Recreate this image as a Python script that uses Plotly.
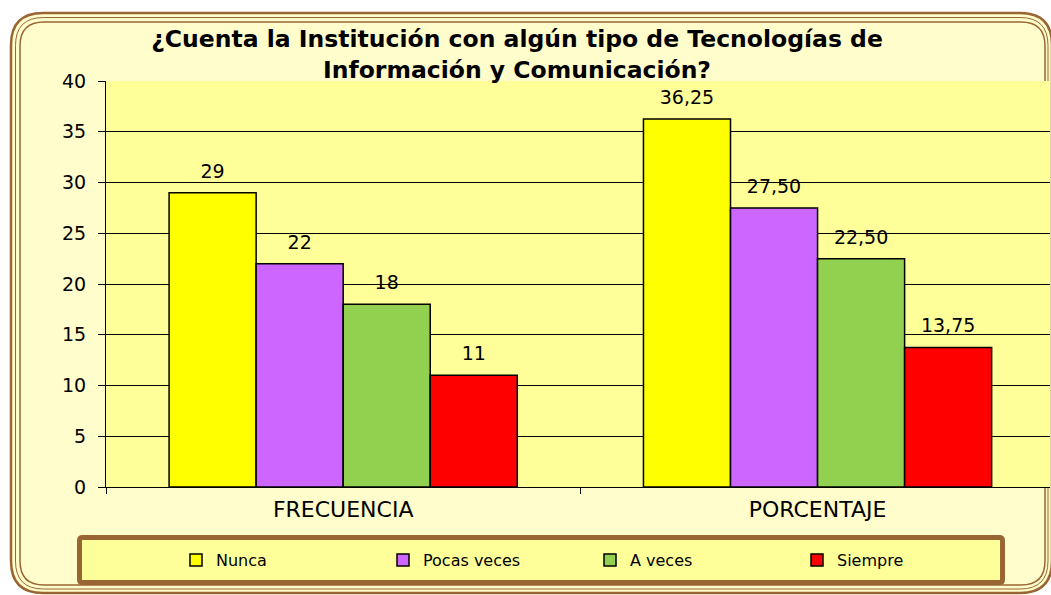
import plotly.graph_objects as go

categories = ["FRECUENCIA", "PORCENTAJE"]
series_names = ["Nunca", "Pocas veces", "A veces", "Siempre"]
nunca = [29, 36.25]
pocas = [22, 27.50]
aveces = [18, 22.50]
siempre = [11, 13.75]
labels = {
    "Nunca": ["29", "36,25"],
    "Pocas veces": ["22", "27,50"],
    "A veces": ["18", "22,50"],
    "Siempre": ["11", "13,75"],
}
values = {"Nunca": nunca, "Pocas veces": pocas, "A veces": aveces, "Siempre": siempre}
colors = {"Nunca": "#FFFF00", "Pocas veces": "#CC66FF", "A veces": "#92D050", "Siempre": "#FF0000"}

W, H = 1051, 595
L, R, T, B = 106, 1, 81, 108
PW, PH = W - L - R, H - T - B
FONT = "DejaVu Sans, Liberation Sans, Arial, sans-serif"
BROWN = "#996633"
GAP = 0.266


def px(x):
    return (x - L) / PW


def py(y):
    return (H - B - y) / PH


def rrect(x0, y0, x1, y1, r):
    X0, X1 = px(x0), px(x1)
    Y0, Y1 = py(y0), py(y1)
    rx, ry = r / PW, r / PH
    return (
        f"M{X0+rx},{Y0} L{X1-rx},{Y0} Q{X1},{Y0} {X1},{Y0-ry} "
        f"L{X1},{Y1+ry} Q{X1},{Y1} {X1-rx},{Y1} "
        f"L{X0+rx},{Y1} Q{X0},{Y1} {X0},{Y1+ry} "
        f"L{X0},{Y0-ry} Q{X0},{Y0} {X0+rx},{Y0} Z"
    )


fig = go.Figure()
for name in series_names:
    fig.add_trace(go.Bar(
        name=name,
        x=categories,
        y=values[name],
        offsetgroup=name,
        marker=dict(color=colors[name], line=dict(color="black", width=1.5)),
    ))
for name in series_names:
    fig.add_trace(go.Scatter(
        name=name,
        x=categories,
        y=values[name],
        offsetgroup=name,
        mode="markers+text",
        marker=dict(size=15, opacity=0),
        text=labels[name],
        textposition="top center",
        textfont=dict(family=FONT, size=19, color="black"),
        showlegend=False,
        hoverinfo="skip",
        cliponaxis=False,
    ))

shapes = [
    dict(type="path", path=rrect(11, 13, 1052, 593, 32), xref="paper", yref="paper",
         fillcolor="#FFFDCB", line=dict(color=BROWN, width=2.5), layer="below"),
    dict(type="path", path=rrect(15.5, 17.5, 1048, 589, 28), xref="paper", yref="paper",
         fillcolor="rgba(0,0,0,0)", line=dict(color=BROWN, width=1), layer="below"),
    dict(type="path", path=rrect(20, 22, 1045, 585, 24), xref="paper", yref="paper",
         fillcolor="rgba(0,0,0,0)", line=dict(color=BROWN, width=1.5), layer="below"),
    dict(type="rect", xref="paper", yref="paper", x0=0, x1=1, y0=0, y1=1,
         fillcolor="#FFFF99", line=dict(width=0), layer="below"),
    dict(type="path", path=rrect(79.5, 537.5, 1002.5, 582.5, 3), xref="paper", yref="paper",
         fillcolor="#FFFF99", line=dict(color=BROWN, width=5), layer="below"),
]

fig.update_layout(
    width=W, height=H,
    margin=dict(l=L, r=R, t=T, b=B, autoexpand=False),
    paper_bgcolor="white",
    plot_bgcolor="rgba(0,0,0,0)",
    barmode="group",
    bargap=GAP,
    bargroupgap=0,
    scattermode="group",
    scattergap=GAP,
    font=dict(family=FONT, color="black"),
    title=dict(
        text="<b>¿Cuenta la Institución con algún tipo de Tecnologías de<br>Información y Comunicación?</b>",
        font=dict(family=FONT, size=23.5, color="black"),
        x=517 / W, xref="container", xanchor="center",
        y=1 - 47 / H, yref="container", yanchor="middle",
    ),
    shapes=shapes,
    showlegend=True,
    legend=dict(
        orientation="h",
        xref="container", yref="container",
        x=176 / W, xanchor="left",
        y=1 - 560 / H, yanchor="middle",
        bgcolor="rgba(0,0,0,0)",
        borderwidth=0,
        font=dict(family=FONT, size=16, color="black"),
        entrywidth=162,
        entrywidthmode="pixels",
        traceorder="normal",
    ),
    xaxis=dict(
        type="category",
        range=[-0.5, 1.49],
        showline=True, linecolor="black", linewidth=1,
        ticks="outside", ticklen=6, tickcolor="black", tickson="boundaries",
        tickfont=dict(family=FONT, size=22, color="black"),
        ticklabelstandoff=3,
        showgrid=False, zeroline=False,
    ),
    yaxis=dict(
        range=[0, 40], dtick=5, tick0=0,
        showline=True, linecolor="black", linewidth=1,
        ticks="outside", ticklen=7, tickcolor="black",
        tickfont=dict(family=FONT, size=19, color="black"),
        ticklabelstandoff=8,
        showgrid=True, gridcolor="black", gridwidth=1,
        zeroline=False,
    ),
)

fig.write_html(
    "out.html",
    config={"displayModeBar": False},
    post_script="document.body.style.margin='0';document.body.style.padding='0';",
)
